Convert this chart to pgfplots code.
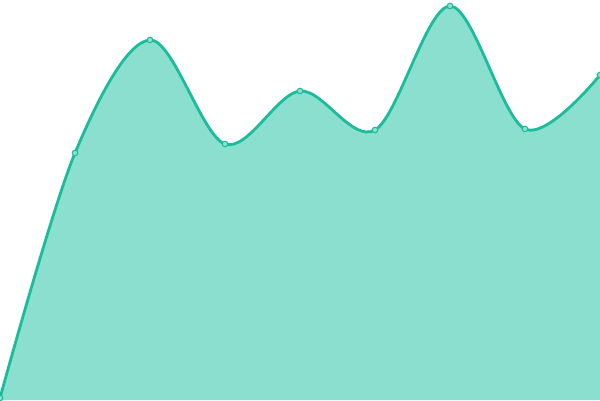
\documentclass[border=0pt]{standalone}
\usepackage{pgfplots}
\pgfplotsset{compat=1.18}
\definecolor{linec}{HTML}{1ABC9C}
\definecolor{fillc}{HTML}{8ADFCF}
\begin{document}
\begin{tikzpicture}
\begin{axis}[
  width=600bp, height=400bp, scale only axis,
  xmin=0, xmax=600, ymin=0, ymax=400,
  hide axis, clip=true, clip marker paths=true,
]
\addplot[draw=none, fill=fillc, smooth, tension=0.55] coordinates {
(0,2) (75,247) (150,360) (225,256) (300,309) (375,270) (450,394) (525,271) (600,325)
} \closedcycle;
\addplot[linec, line width=2.8bp, smooth, tension=0.55,
  mark=*, mark size=2.8bp, mark options={fill=fillc, draw=linec, line width=1bp}] coordinates {
(0,2) (75,247) (150,360) (225,256) (300,309) (375,270) (450,394) (525,271) (600,325)
};
\end{axis}
\pgfresetboundingbox
\path[use as bounding box] (current axis.south west) rectangle (current axis.north east);
\end{tikzpicture}
\end{document}
